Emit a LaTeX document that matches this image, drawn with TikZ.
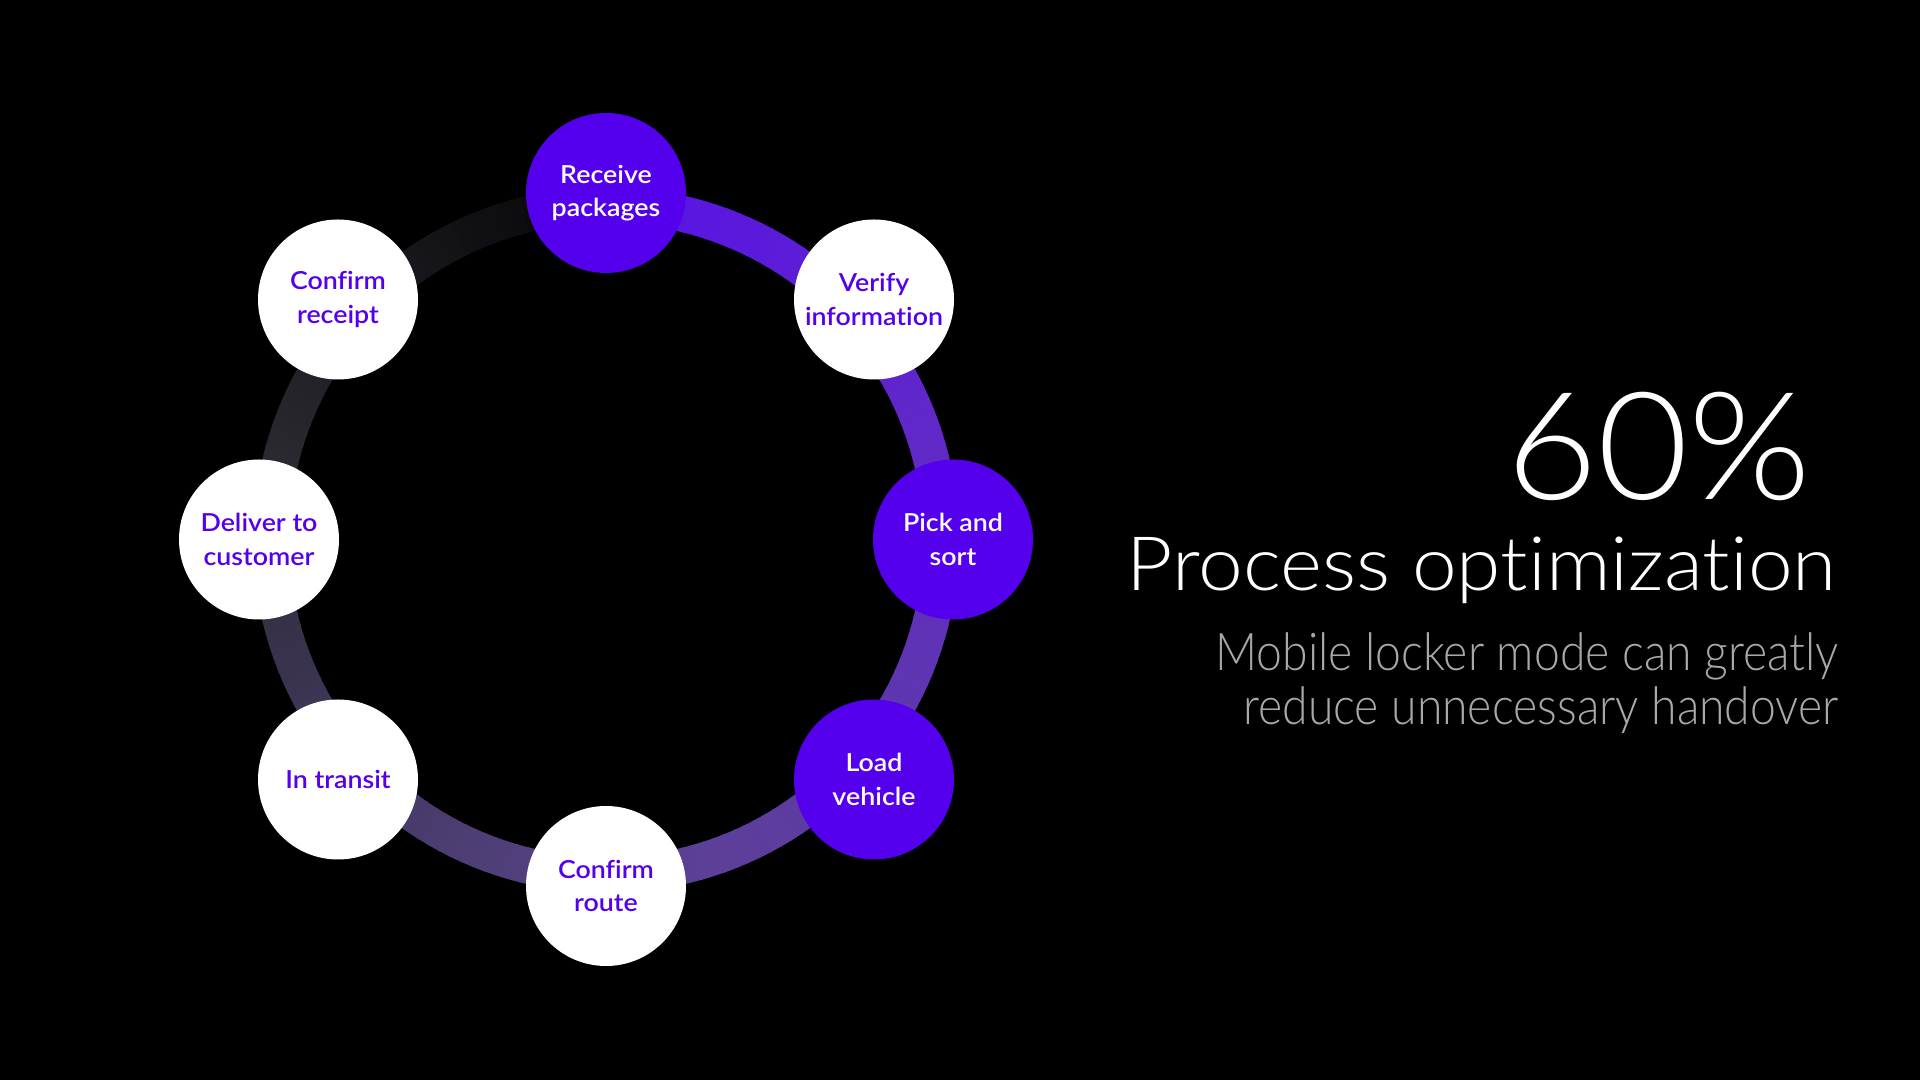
\documentclass[tikz,border=0pt]{standalone}
\usepackage{fontspec}
\setmainfont{Lato}
\newfontfamily\nodefont{Lato Semibold}[FakeStretch=1.08, Ligatures=NoCommon]
\newfontfamily\lightpct{Lato Light}[FakeStretch=1.05]
\newfontfamily\lightwide{Lato Light}[FakeStretch=1.07, Ligatures=NoCommon]
\newfontfamily\lightnarrow{Lato Light}[FakeStretch=0.89, Ligatures=NoCommon]
\definecolor{brand}{HTML}{5500EC}
\definecolor{subgray}{HTML}{A8A8A8}
\definecolor{r0}{HTML}{5812E6}
\definecolor{r1}{HTML}{6028C8}
\definecolor{r2}{HTML}{5E36B0}
\definecolor{r3}{HTML}{5D3F98}
\definecolor{r4}{HTML}{4F3F78}
\definecolor{r5}{HTML}{3D3555}
\definecolor{r6}{HTML}{2A2830}
\definecolor{r7}{HTML}{141418}
\definecolor{r8}{HTML}{050507}
\tikzset{
  ringseg/.style={line width=18pt, line cap=butt},
  stepbase/.style={circle, minimum size=80pt, inner sep=0pt, align=center,
    font=\nodefont\fontsize{12.4}{16.6}\selectfont},
  stepdark/.style={stepbase, fill=brand, text=white},
  steplight/.style={stepbase, fill=white, text=brand},
  bigtext/.style={anchor=base east, inner sep=0pt, text=white}
}
\begin{document}
\begin{tikzpicture}[x=0.5pt,y=0.5pt]
\path[fill=black] (0,0) rectangle (1920,1080);
\coordinate (c) at (606,540);
% gradient ring
\foreach \ta/\tb/\ca/\cb in {0/70/r0/r1,70/120/r1/r2,120/160/r2/r3,160/200/r3/r4,200/240/r4/r5,240/285/r5/r6,285/330/r6/r7,330/360/r7/r8}{
  \pgfmathtruncatemacro\n{(\tb-\ta)/2}
  \foreach \i in {1,...,\n}{
    \pgfmathsetmacro\s{90-\ta-(\tb-\ta)*(\i-1)/\n}
    \pgfmathsetmacro\e{90-\ta-(\tb-\ta)*\i/\n-0.4}
    \pgfmathsetmacro\p{100-100*(\i-0.5)/\n}
    \draw[ringseg, color=\ca!\p!\cb] (c) ++(\s:335) arc[start angle=\s, end angle=\e, radius=335];
  }
}
% steps
\node[stepdark]  (receive) at (606,887)   {Receive\\packages};
\node[steplight] (verify)  at (874,780.5) {Verify\\information};
\node[stepdark]  (pick)    at (953,540.5) {Pick and\\sort};
\node[stepdark]  (load)    at (874,300.5) {Load\\vehicle};
\node[steplight] (route)   at (606,194)   {Confirm\\route};
\node[steplight] (transit) at (338,300.5) {In transit};
\node[steplight] (deliver) at (259,540.5) {Deliver to\\customer};
\node[steplight] (receipt) at (338,780.5) {Confirm\\receipt};
% right text
\node[bigtext, font=\lightpct\fontsize{75}{75}\selectfont] (pct) at (1812,580) {60\%};
\node[bigtext, font=\lightwide\fontsize{37.5}{40}\selectfont] (title) at (1837,489) {Process optimization};
\node[bigtext, text=subgray, align=right, font=\lightnarrow\fontsize{26}{27}\selectfont] (sub) at (1839,355) {Mobile locker mode can greatly\\reduce unnecessary handover};
\end{tikzpicture}
\end{document}
